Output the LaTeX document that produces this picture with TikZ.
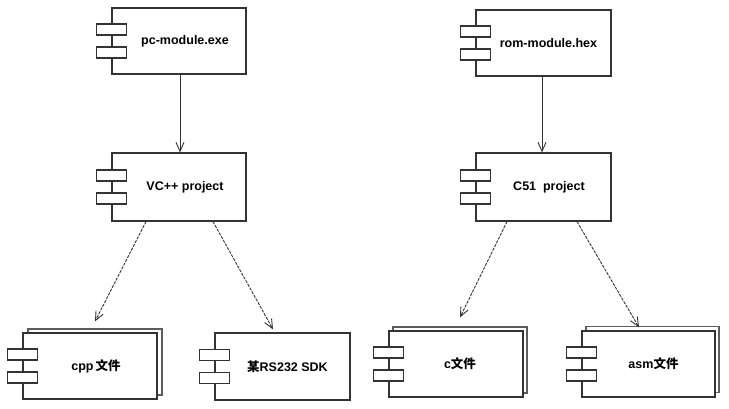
\documentclass[tikz,border=0pt]{standalone}
\usepackage{fontspec}
\setmainfont{Liberation Sans}
\newfontfamily\cjk{Noto Sans CJK SC}
\usetikzlibrary{arrows.meta}
\definecolor{lc}{HTML}{333333}
\tikzset{
  comp/.style={draw=lc, fill=white, line width=1.2pt, inner sep=0pt, minimum width=134pt, minimum height=66pt},
  backcomp/.style={comp, draw=lc!80},
  port/.style={draw=lc, fill=white, line width=1.2pt, inner sep=0pt, minimum width=30pt, minimum height=11pt},
  lbl/.style={font=\fontsize{12.5}{14}\selectfont\bfseries, inner sep=0pt, text=black},
  dep/.style={draw=lc, line width=0.9pt, dash pattern=on 3pt off 1.2pt, -{Straight Barb[length=9pt,width=8pt]}},
  use/.style={draw=lc, line width=0.9pt, -{Straight Barb[length=9pt,width=8pt]}}
}
\newcommand{\ports}[1]{%
  \node[port] (#1p1) at ([yshift=11.5pt]#1.west) {};
  \node[port] (#1p2) at ([yshift=-11.5pt]#1.west) {};}
\begin{document}
\begin{tikzpicture}[x=1pt,y=-1pt]
\useasboundingbox (0,0) rectangle (729,409);
% top row
\node[comp] (pc) at (179,41) {};
\ports{pc}
\node[lbl] (pct) at ([xshift=6pt]pc.center) {pc-module.exe};
\node[comp, minimum width=135pt] (rom) at (543.5,43) {};
\ports{rom}
\node[lbl] (romt) at ([xshift=5pt]rom.center) {rom-module.hex};
% middle row
\node[comp, minimum height=68pt] (vc) at (179,187) {};
\ports{vc}
\node[lbl] (vct) at ([xshift=6pt]vc.center) {VC++ project};
\node[comp, minimum width=135pt, minimum height=68pt] (c51) at (543.5,187) {};
\ports{c51}
\node[lbl] (c51t) at ([xshift=5.5pt]c51.center) {C51\ \ project};
% bottom row
\node[backcomp] (cppb) at (95,362) {};
\node[comp] (cpp) at (90,366) {};
\ports{cpp}
\node[lbl] (cppt) at ([xshift=6pt]cpp.center) {cpp\,{\cjk\bfseries 文件}};
\node[comp, minimum width=135pt, minimum height=67pt] (rs) at (282.5,366.5) {};
\ports{rs}
\node[lbl] (rst) at ([xshift=5pt]rs.center) {{\cjk\bfseries 某}RS232 SDK};
\node[backcomp] (cfb) at (460,360) {};
\node[comp] (cf) at (456,364) {};
\ports{cf}
\node[lbl] (cft) at ([xshift=4pt]cf.center) {c{\cjk\bfseries 文件}};
\node[backcomp, minimum width=133pt] (asmb) at (652.5,359.5) {};
\node[comp, minimum width=133pt] (asm) at (648.5,364) {};
\ports{asm}
\node[lbl] (asmt) at ([xshift=5pt]asm.center) {asm{\cjk\bfseries 文件}};
% connectors
\draw[use] ([xshift=1pt]pc.south) -- ([xshift=1pt]vc.north);
\draw[use] ([xshift=-1.5pt]rom.south) -- ([xshift=-1.5pt]c51.north);
\draw[dep] ([xshift=-33pt]vc.south) -- ([shift={(5pt,11pt)}]cpp.north);
\draw[dep] ([xshift=34pt]vc.south) -- ([shift={(-9.5pt,3pt)}]rs.north);
\draw[dep] ([xshift=-36.5pt]c51.south) -- ([shift={(4pt,13pt)}]cf.north);
\draw[dep] ([xshift=33.5pt]c51.south) -- ([shift={(-9.5pt,3pt)}]asm.north);
\end{tikzpicture}
\end{document}
